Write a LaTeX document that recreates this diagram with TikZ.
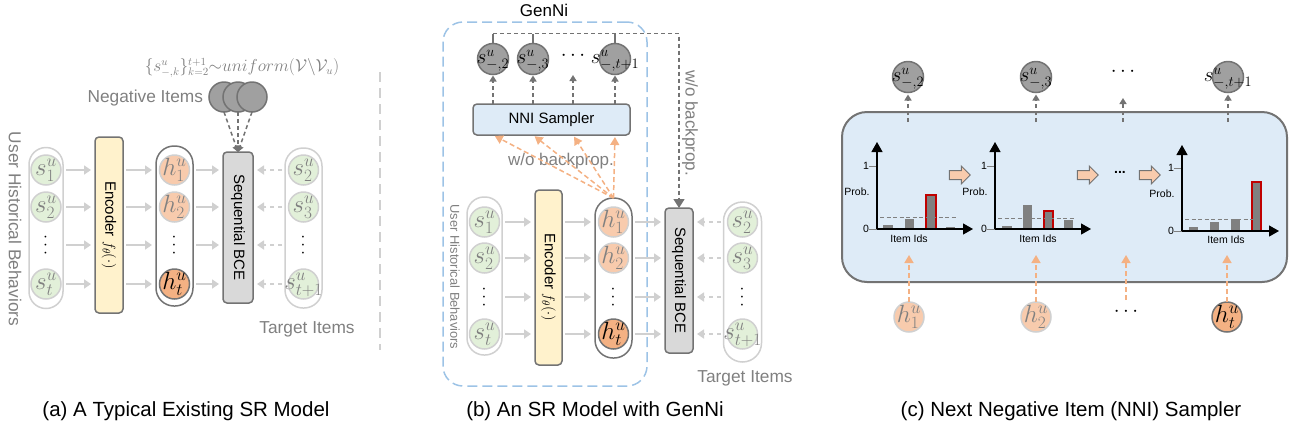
\documentclass[tikz,border=0pt]{standalone}
\usepackage[no-math]{fontspec}
\setmainfont{Liberation Sans}
\usetikzlibrary{arrows.meta,shapes.arrows,calc}
\definecolor{lgray}{HTML}{D0D0D0}
\definecolor{mgray}{HTML}{808080}
\definecolor{dgray}{HTML}{737373}
\definecolor{gfill}{HTML}{E2F0D9}
\definecolor{ofill}{HTML}{F8CBAD}
\definecolor{odark}{HTML}{F4B183}
\definecolor{cgray}{HTML}{A0A0A0}
\definecolor{yfill}{HTML}{FFF2CC}
\definecolor{bfill}{HTML}{DEEBF7}
\definecolor{bline}{HTML}{9DC3E6}
\definecolor{bcefill}{HTML}{D9D9D9}
\definecolor{redl}{HTML}{C00000}
\definecolor{barc}{HTML}{808080}
\newcommand\fsz[1]{\fontsize{#1}{#1}\selectfont}
\newcommand\cirtxt[1]{\makebox[0pt]{$#1$}}
\newcommand\vdts{\rotatebox{90}{$\cdots$}}
\begin{document}
\begin{tikzpicture}[x=1pt,y=-1pt,
  every node/.style={inner sep=0pt, outer sep=0pt},
  circ/.style={circle, minimum size=30pt, line width=1.5pt, font=\fsz{25}, text height=11.5pt, text depth=0pt},
  gcirc/.style={circ, draw=lgray, fill=gfill, text=mgray},
  ocirc/.style={circ, draw=lgray, fill=ofill, text=mgray},
  odcirc/.style={circ, draw=dgray, fill=odark, text=black},
  ncirc/.style={circ, minimum size=31pt, draw=dgray, fill=cgray, text=black, font=\fsz{21}, text height=9.5pt},
  vdot/.style={font=\fsz{18}},
  capsule/.style={rectangle, draw=lgray, line width=1.5pt, rounded corners=17pt},
  encbox/.style={rectangle, draw=dgray, fill=yfill, line width=1.5pt, rounded corners=4pt, font=\fsz{15}},
  bcebox/.style={rectangle, draw=dgray, fill=bcefill, line width=1.5pt, rounded corners=4pt, font=\fsz{15}},
  la/.style={draw=lgray, line width=2pt, -{Triangle[length=7pt,width=9pt]}, shorten <=3pt, shorten >=4pt},
  lad/.style={la, dash pattern=on 4pt off 4pt},
  ga/.style={draw=dgray, line width=1.5pt, dash pattern=on 4pt off 3pt, -{Triangle[length=6pt,width=7pt]}},
  oa/.style={draw=odark, line width=1.5pt, dash pattern=on 5pt off 3pt, -{Triangle[length=8pt,width=9pt]}},
  glabel/.style={text=mgray, font=\fsz{17.3}},
  captxt/.style={font=\fsz{20.5}},
  ctext/.style={font=\fsz{10.5}},
  axisl/.style={draw=black, line width=1.2pt, -{Triangle[length=10pt,width=11pt]}},
  tickl/.style={draw=mgray, line width=1pt},
  barf/.style={fill=barc},
  rbar/.style={fill=barc, draw=redl, line width=1.5pt},
  thr/.style={draw=mgray, line width=0.8pt, dash pattern=on 4pt off 2.5pt},
  barrow/.style={single arrow, draw=dgray, fill=ofill, line width=1pt, minimum height=21pt, minimum width=17pt, inner sep=4pt, single arrow head extend=4.5pt, single arrow head indent=0pt}
]
\useasboundingbox (0,0) rectangle (1294,432);

% ================= panel (a) =================
\node[text=mgray, font=\fsz{16}] (aform) at (242,68) {$\{s^u_{-,k}\}_{k=2}^{t+1}{\sim}uniform(\mathcal{V}\backslash\mathcal{V}_u)$};
\node[glabel, anchor=east] (aneg) at (203,98) {Negative Items};
\node[ncirc, minimum size=30pt] (na1) at (224,97) {};
\node[ncirc, minimum size=30pt] (na2) at (238,97) {};
\node[ncirc, minimum size=30pt] (na3) at (252,97) {};
\node[glabel] (auhb) at (15,229) {\rotatebox{-90}{User Historical Behaviors}};
\node[capsule, minimum width=34pt, minimum height=161pt] (aHist) at (46,228) {};
\node[gcirc] (as1) at (46,170) {\cirtxt{s^u_1}};
\node[gcirc] (as2) at (46,207) {\cirtxt{s^u_2}};
\node[vdot] (asd) at (46,245) {\vdts};
\node[gcirc] (ast) at (46,284) {\cirtxt{s^u_t}};
\node[encbox, minimum width=28pt, minimum height=176pt] (aEnc) at (109,225) {\rotatebox{-90}{Encoder $f_\theta(\cdot)$}};
\node[capsule, draw=dgray, minimum width=37pt, minimum height=160pt, rounded corners=18pt] (aH) at (174.5,226) {};
\node[ocirc] (ah1) at (174.5,170) {\cirtxt{h^u_1}};
\node[ocirc] (ah2) at (174.5,207) {\cirtxt{h^u_2}};
\node[vdot] (ahd) at (174.5,245) {\vdts};
\node[odcirc] (aht) at (174.5,284) {\cirtxt{h^u_t}};
\node[bcebox, minimum width=30pt, minimum height=151pt] (aBCE) at (238,227.5) {\rotatebox{-90}{Sequential BCE}};
\node[capsule, minimum width=37pt, minimum height=160pt, rounded corners=18pt] (aTgt) at (303.5,228) {};
\node[gcirc] (at2) at (303.5,170) {\cirtxt{s^u_2}};
\node[gcirc] (at3) at (303.5,207) {\cirtxt{s^u_3}};
\node[vdot] (atd) at (303.5,245) {\vdts};
\node[gcirc] (att) at (303.5,284) {\cirtxt{s^u_{t+1}}};
\node[glabel] (atgtl) at (307,329) {Target Items};
\foreach \r/\q in {as1/at2,as2/at3,asd/atd,ast/att}{
  \draw[la] (aHist.east |- \r) -- (aEnc.west |- \r);
  \draw[la] (aEnc.east |- \r) -- (aH.west |- \r);
  \draw[la] (aH.east |- \r) -- (aBCE.west |- \r);
  \draw[lad] (aTgt.west |- \q) -- (aBCE.east |- \q);
}
\foreach \n in {na1,na2,na3} \draw[ga] (\n.south) -- (aBCE.north);
\draw[lgray, line width=1.5pt, dash pattern=on 10pt off 6pt] (380,72) -- (380,350);

% ================= panel (b) =================
\node[font=\fsz{17}] (gtitle) at (544,10) {GenNi};
\node[rectangle, draw=bline, line width=1.5pt, dash pattern=on 10pt off 5pt, rounded corners=20pt, minimum width=204pt, minimum height=364pt] (gFrame) at (545,204) {};
\node[ncirc] (bn1) at (493,59) {\cirtxt{s^u_{-,2}}};
\node[ncirc] (bn2) at (533,59) {\cirtxt{s^u_{-,3}}};
\node[font=\fsz{20}] (bdots) at (573,56) {$\cdots$};
\node[ncirc] (bn3) at (615,59) {\cirtxt{s^u_{-,t+1}}};
\node[rectangle, draw=dgray, fill=bfill, line width=1.5pt, rounded corners=4pt, minimum width=157pt, minimum height=31pt, font=\fsz{15}] (bNNI) at (551.5,119.5) {NNI Sampler};

\node[glabel, font=\fsz{12.9}] (buhb) at (455,277) {\rotatebox{-90}{User Historical Behaviors}};
\node[capsule, minimum width=35pt, minimum height=158pt] (bHist) at (484.5,276) {};
\node[gcirc] (bs1) at (484.5,222) {\cirtxt{s^u_1}};
\node[gcirc] (bs2) at (484.5,258) {\cirtxt{s^u_2}};
\node[vdot] (bsd) at (484.5,297) {\vdts};
\node[gcirc] (bst) at (484.5,334) {\cirtxt{s^u_t}};
\node[encbox, minimum width=27pt, minimum height=175pt] (bEnc) at (548.5,277.5) {\rotatebox{-90}{Encoder $f_\theta(\cdot)$}};
\node[capsule, draw=dgray, minimum width=37pt, minimum height=160pt, rounded corners=18pt] (bH) at (613.5,278) {};
\node[ocirc] (bh1) at (613.5,222) {\cirtxt{h^u_1}};
\node[ocirc] (bh2) at (613.5,258) {\cirtxt{h^u_2}};
\node[vdot] (bhd) at (613.5,297) {\vdts};
\node[odcirc] (bht) at (613.5,334) {\cirtxt{h^u_t}};
\node[bcebox, minimum width=28pt, minimum height=145pt] (bBCE) at (679,280.5) {\rotatebox{-90}{Sequential BCE}};
\node[capsule, minimum width=38pt, minimum height=160pt, rounded corners=19pt] (bTgt) at (742.5,282) {};
\node[gcirc] (bt2) at (742.5,222) {\cirtxt{s^u_2}};
\node[gcirc] (bt3) at (742.5,258) {\cirtxt{s^u_3}};
\node[vdot] (btd) at (742.5,297) {\vdts};
\node[gcirc] (btt) at (742.5,334) {\cirtxt{s^u_{t+1}}};
\node[glabel] (btgtl) at (745,378) {Target Items};
\node[glabel, font=\fsz{17}] (bwo2) at (690,123) {\rotatebox{-90}{w/o backprop.}};
\node[glabel, font=\fsz{17}] (bwo1) at (561,161) {w/o backprop.};

\foreach \r/\q in {bs1/bt2,bs2/bt3,bsd/btd,bst/btt}{
  \draw[la] (bHist.east |- \r) -- (bEnc.west |- \r);
  \draw[la] (bEnc.east |- \r) -- (bH.west |- \r);
  \draw[la] (bH.east |- \r) -- (bBCE.west |- \r);
  \draw[lad] (bTgt.west |- \q) -- (bBCE.east |- \q);
}
\foreach \n in {bn1,bn2,bn3} {
  \draw[ga, shorten >=1pt] (bNNI.north -| \n) -- (\n.south);
  \draw[draw=dgray, line width=1.5pt] (\n.north) -- ++(0,-10);
}
\draw[ga] (bNNI.north -| bdots) -- ($(bdots)+(0,19)$);
\draw[ga, -{Triangle[length=9pt,width=11pt]}] ($(bn1.north)+(0,-10)$) -| (bBCE.north);
\foreach \n in {bn1,bn2,bdots,bn3} \draw[oa, shorten >=2pt] (bH.north) -- (bNNI.south -| \n);

% ================= panel (c) =================
\node[rectangle, draw=dgray, fill=bfill, line width=2pt, rounded corners=25pt, minimum width=445pt, minimum height=170pt] (cBox) at (1064.5,197) {};
\node[ncirc] (cn1) at (908,77) {\cirtxt{s^u_{-,2}}};
\node[ncirc] (cn2) at (1036,77) {\cirtxt{s^u_{-,3}}};
\node[font=\fsz{20}] (cdots1) at (1123,72) {$\cdots$};
\node[ncirc] (cn3) at (1228,77) {\cirtxt{s^u_{-,t+1}}};
\foreach \n in {cn1,cn2,cn3} \draw[ga, shorten >=2pt] ($(cBox.north -| \n)+(0,10)$) -- (\n.south);
\draw[ga] ($(cBox.north -| cdots1)+(0,10)$) -- ($(cdots1)+(0,26)$);

\node[ocirc] (ch1) at (909,317) {\cirtxt{h^u_1}};
\node[ocirc] (ch2) at (1036,317) {\cirtxt{h^u_2}};
\node[font=\fsz{20}] (cdots2) at (1126,312) {$\cdots$};
\node[odcirc] (cht) at (1227,317) {\cirtxt{h^u_t}};
\foreach \n in {ch1,ch2,cht} \draw[oa] (\n.north) -- ($(cBox.south -| \n)+(0,-27)$);
\draw[oa] ($(cdots2)+(0,-12)$) -- ($(cBox.south -| cdots2)+(0,-27)$);

% chart 1
\begin{scope}[shift={(877,229)}]
  \fill[barf] (6,0) rectangle (16,-4);
  \fill[barf] (28,0) rectangle (37,-10);
  \draw[rbar] (49,0) rectangle (59,-34);
  \fill[barf] (69,0) rectangle (78,-2);
  \draw[thr] (3,-12) -- (79,-12);
  \draw[tickl] (-8,-63) -- (0,-63);
  \draw[tickl] (-8,0) -- (0,0);
  \draw[axisl] (0,0) -- (0,-87);
  \draw[axisl] (0,0) -- (96,0);
  \node[ctext, anchor=east] (c1one) at (-8,-63) {1};
  \node[ctext, anchor=east] (c1zero) at (-8,0) {0};
  \node[ctext] (c1prob) at (-20,-37) {Prob.};
  \node[ctext] (c1ids) at (32,10) {Item Ids};
\end{scope}
% chart 2
\begin{scope}[shift={(995,229)}]
  \fill[barf] (7,0) rectangle (17,-3);
  \fill[barf] (28,0) rectangle (37,-24);
  \draw[rbar] (49,0) rectangle (58,-18);
  \fill[barf] (69,0) rectangle (78,-9);
  \draw[thr] (3,-11) -- (79,-11);
  \draw[tickl] (-8,-63) -- (0,-63);
  \draw[tickl] (-8,0) -- (0,0);
  \draw[axisl] (0,0) -- (0,-87);
  \draw[axisl] (0,0) -- (96,0);
  \node[ctext, anchor=east] (c2one) at (-8,-63) {1};
  \node[ctext, anchor=east] (c2zero) at (-8,0) {0};
  \node[ctext] (c2prob) at (-20,-37) {Prob.};
  \node[ctext] (c2ids) at (43,10) {Item Ids};
\end{scope}
% chart 3
\begin{scope}[shift={(1182,231)}]
  \fill[barf] (7,0) rectangle (16,-4);
  \fill[barf] (28,0) rectangle (37,-9);
  \fill[barf] (49,0) rectangle (58,-12);
  \draw[rbar] (70,0) rectangle (79,-49);
  \draw[thr] (3,-12) -- (72,-12);
  \draw[tickl] (-8,-63) -- (0,-63);
  \draw[tickl] (-8,0) -- (0,0);
  \draw[axisl] (0,0) -- (0,-86);
  \draw[axisl] (0,0) -- (97,0);
  \node[ctext, anchor=east] (c3one) at (-8,-63) {1};
  \node[ctext, anchor=east] (c3zero) at (-8,0) {0};
  \node[ctext] (c3prob) at (-20,-37) {Prob.};
  \node[ctext] (c3ids) at (44,9) {Item Ids};
\end{scope}
\node[barrow] (ba1) at (957.5,175) {};
\node[barrow] (ba2) at (1085.5,175) {};
\node[font=\fsz{14}\bfseries] (cmid) at (1120,172) {...};
\node[barrow] (ba3) at (1147.5,175) {};

% ================= captions =================
\node[captxt] (capA) at (186,411) {(a) A Typical Existing SR Model};
\node[captxt] (capB) at (595,411) {(b) An SR Model with GenNi};
\node[captxt] (capC) at (1071,411) {(c) Next Negative Item (NNI) Sampler};
\end{tikzpicture}
\end{document}
